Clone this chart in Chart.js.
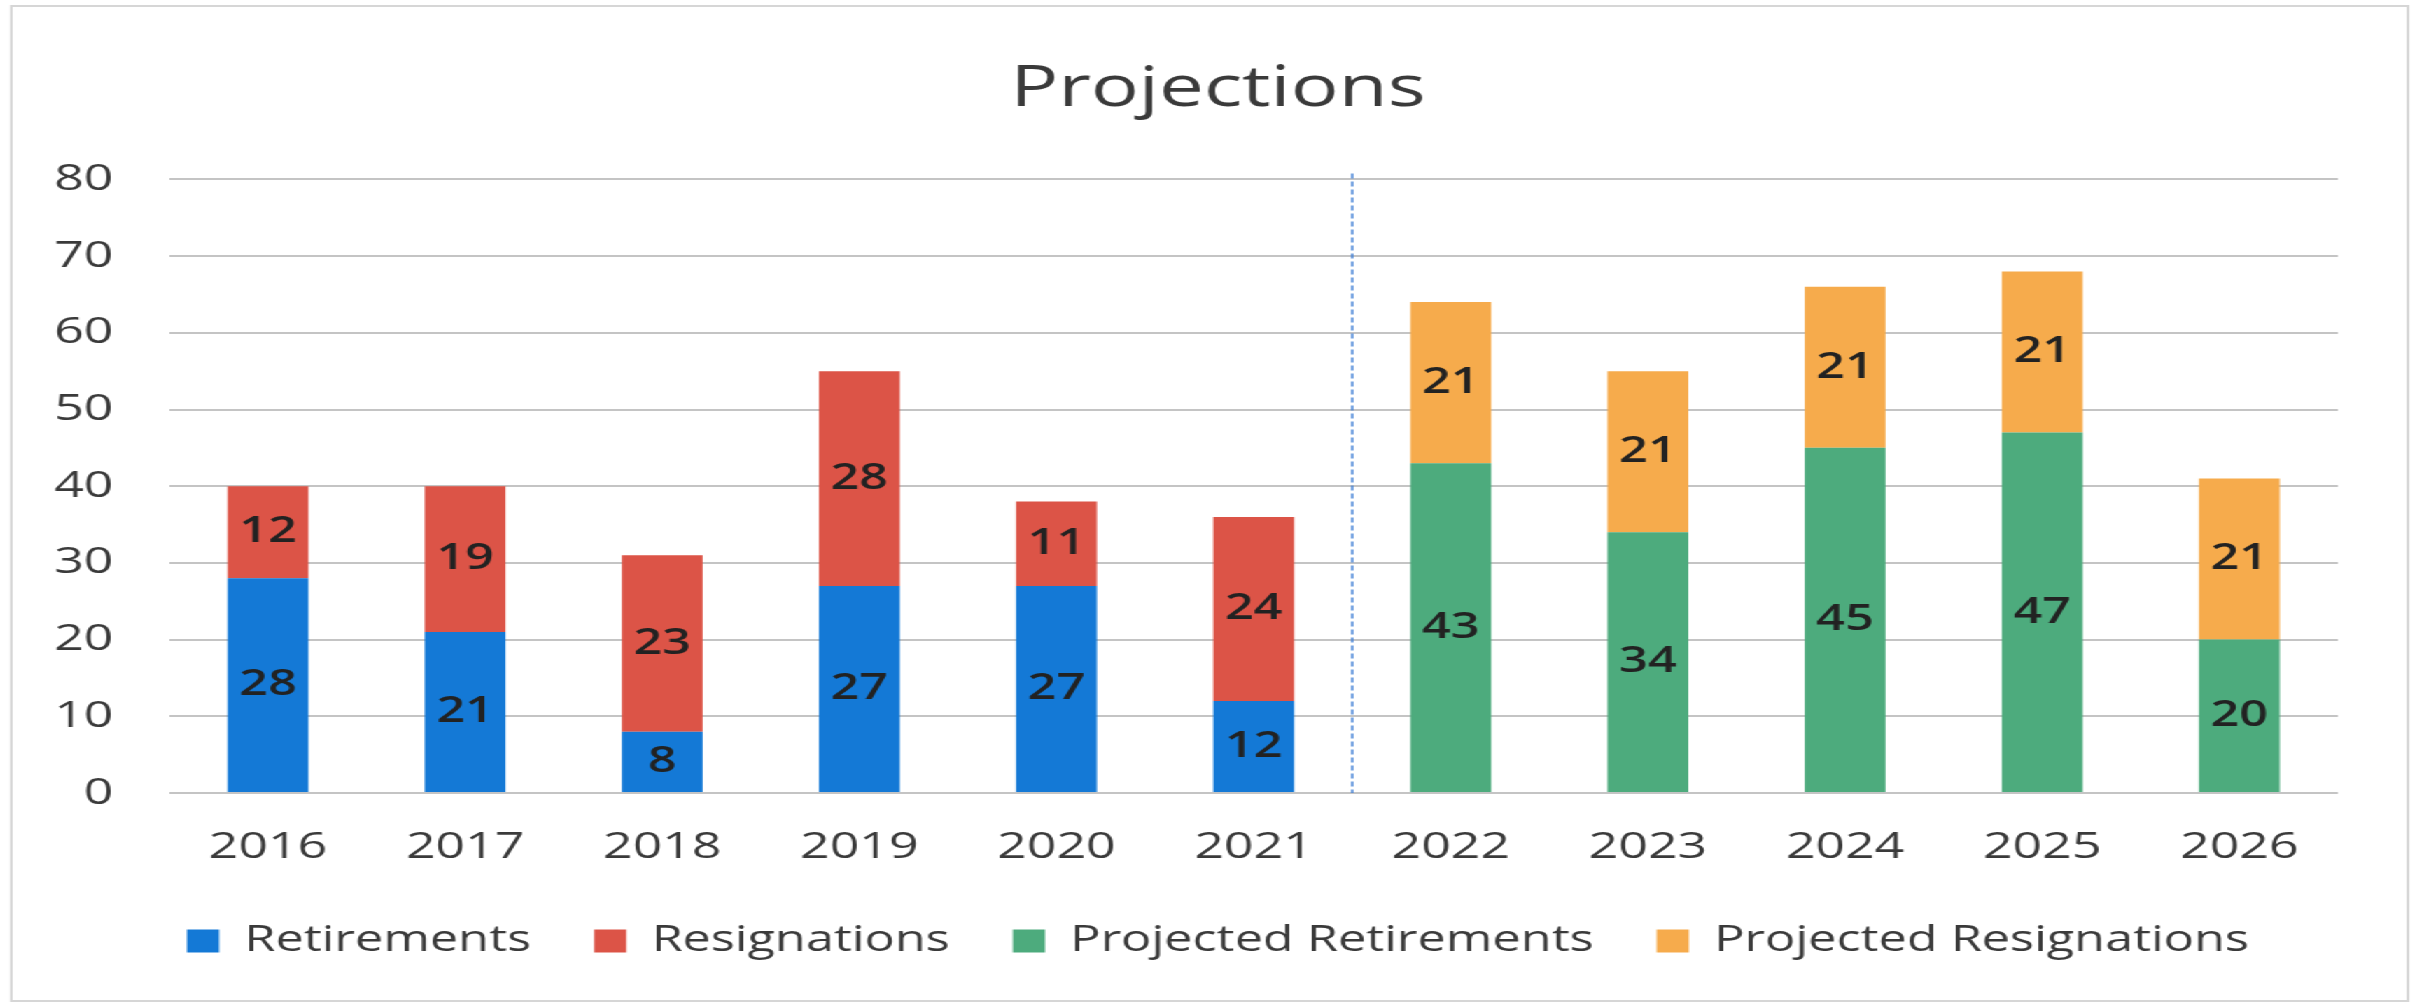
<!DOCTYPE html>
<html>
<head>
<meta charset="utf-8">
<title>Projections</title>
<script src="https://cdn.jsdelivr.net/npm/chart.js"></script>
<style>
    html, body { margin: 0; padding: 0; background: #ffffff; overflow: hidden; }
    /* panel is laid out narrow and widened to the full page */
    #panel {
        position: absolute; left: 0; top: 0;
        width: 1734px; height: 1004px;
        transform: scaleX(1.4); transform-origin: 0 0;
    }
    #frame {
        position: absolute; left: 7px; top: 5px; right: 13px; bottom: 2px;
        border: 2px solid #d6d6d6;
    }
    #myChart { position: absolute; left: 0; top: 0; }
</style>
</head>
<body>
<div id="panel">
    <div id="frame"></div>
    <canvas id="myChart" width="1734" height="1004"></canvas>
</div>
<script>
var years = ['2016', '2017', '2018', '2019', '2020', '2021', '2022', '2023', '2024', '2025', '2026'];
var retirements = [28, 21, 8, 27, 27, 12, null, null, null, null, null];
var resignations = [12, 19, 23, 28, 11, 24, null, null, null, null, null];
var projectedRetirements = [null, null, null, null, null, null, 43, 34, 45, 47, 20];
var projectedResignations = [null, null, null, null, null, null, 21, 21, 21, 21, 21];
var yTicks = [0, 10, 20, 30, 40, 50, 60, 70, 80];

var textColor = '#3a3a3a';
Chart.defaults.font.family = "'Open Sans', sans-serif";
Chart.defaults.color = textColor;

// Write each segment's value in the middle of it
var segmentLabels = {
    id: 'segmentLabels',
    afterDatasetsDraw: function(chart) {
        var ctx = chart.ctx;
        ctx.save();
        ctx.font = "600 36px 'Open Sans', sans-serif";
        ctx.fillStyle = '#222222';
        ctx.textAlign = 'center';
        ctx.textBaseline = 'middle';
        chart.data.datasets.forEach(function(ds, i) {
            var meta = chart.getDatasetMeta(i);
            meta.data.forEach(function(bar, j) {
                var v = ds.data[j];
                if (v === null || v === undefined) return;
                ctx.fillText(String(v), bar.x, (bar.y + bar.base) / 2);
            });
        });
        ctx.restore();
    }
};

// Dashed divider between actual years and projected years
var projectionDivider = {
    id: 'projectionDivider',
    afterDatasetsDraw: function(chart) {
        var first = projectedRetirements.findIndex(function(v) { return v !== null; });
        if (first < 1) return;
        var xs = chart.scales.x;
        var x = (xs.getPixelForTick(first - 1) + xs.getPixelForTick(first)) / 2;
        var area = chart.chartArea;
        var ctx = chart.ctx;
        ctx.save();
        ctx.strokeStyle = '#3f7fd6';
        ctx.lineWidth = 1.5;
        ctx.setLineDash([5, 3]);
        ctx.beginPath();
        ctx.moveTo(x, area.top - 6);
        ctx.lineTo(x, area.bottom);
        ctx.stroke();
        ctx.restore();
    }
};

var ctx = document.getElementById('myChart').getContext('2d');
var myChart = new Chart(ctx, {
    type: 'bar',
    data: {
        labels: years,
        datasets: [
            { label: 'Retirements', data: retirements, backgroundColor: '#1479d6' },
            { label: 'Resignations', data: resignations, backgroundColor: '#dc5447' },
            { label: 'Projected Retirements', data: projectedRetirements, backgroundColor: '#4dab7d' },
            { label: 'Projected Resignations', data: projectedResignations, backgroundColor: '#f6ab4c' }
        ]
    },
    options: {
        responsive: false,
        animation: false,
        layout: { padding: { left: 35, right: 29, top: 0, bottom: 35 } },
        datasets: {
            bar: { categoryPercentage: 1, barPercentage: 0.41, borderWidth: 0 }
        },
        scales: {
            x: {
                stacked: true,
                grid: { display: false, drawTicks: false },
                border: { display: false },
                ticks: { font: { size: 37 }, color: textColor, padding: 32 },
                afterFit: function(scale) { scale.height = 85; }
            },
            y: {
                stacked: true,
                min: 0,
                max: 80,
                grid: { color: '#c4c4c4', lineWidth: 2, drawTicks: false },
                border: { display: false },
                afterBuildTicks: function(scale) {
                    scale.ticks = yTicks.map(function(v) { return { value: v }; });
                },
                ticks: { font: { size: 37 }, color: textColor, padding: 40 },
                afterFit: function(scale) { scale.width = 86; }
            },
            // empty strip on the right so title and legend sit centred on the panel
            spacer: {
                position: 'right',
                grid: { display: false, drawTicks: false },
                border: { display: false },
                ticks: { display: false },
                afterFit: function(scale) { scale.width = 35; }
            }
        },
        plugins: {
            title: {
                display: true,
                text: 'Projections',
                color: textColor,
                font: { size: 57, weight: 'normal' },
                padding: { top: 56, bottom: 55 }
            },
            legend: {
                position: 'bottom',
                labels: {
                    font: { size: 36 },
                    color: textColor,
                    boxWidth: 23,
                    boxHeight: 23,
                    padding: 45
                }
            },
            tooltip: { enabled: false }
        }
    },
    plugins: [segmentLabels, projectionDivider]
});
</script>
</body>
</html>
